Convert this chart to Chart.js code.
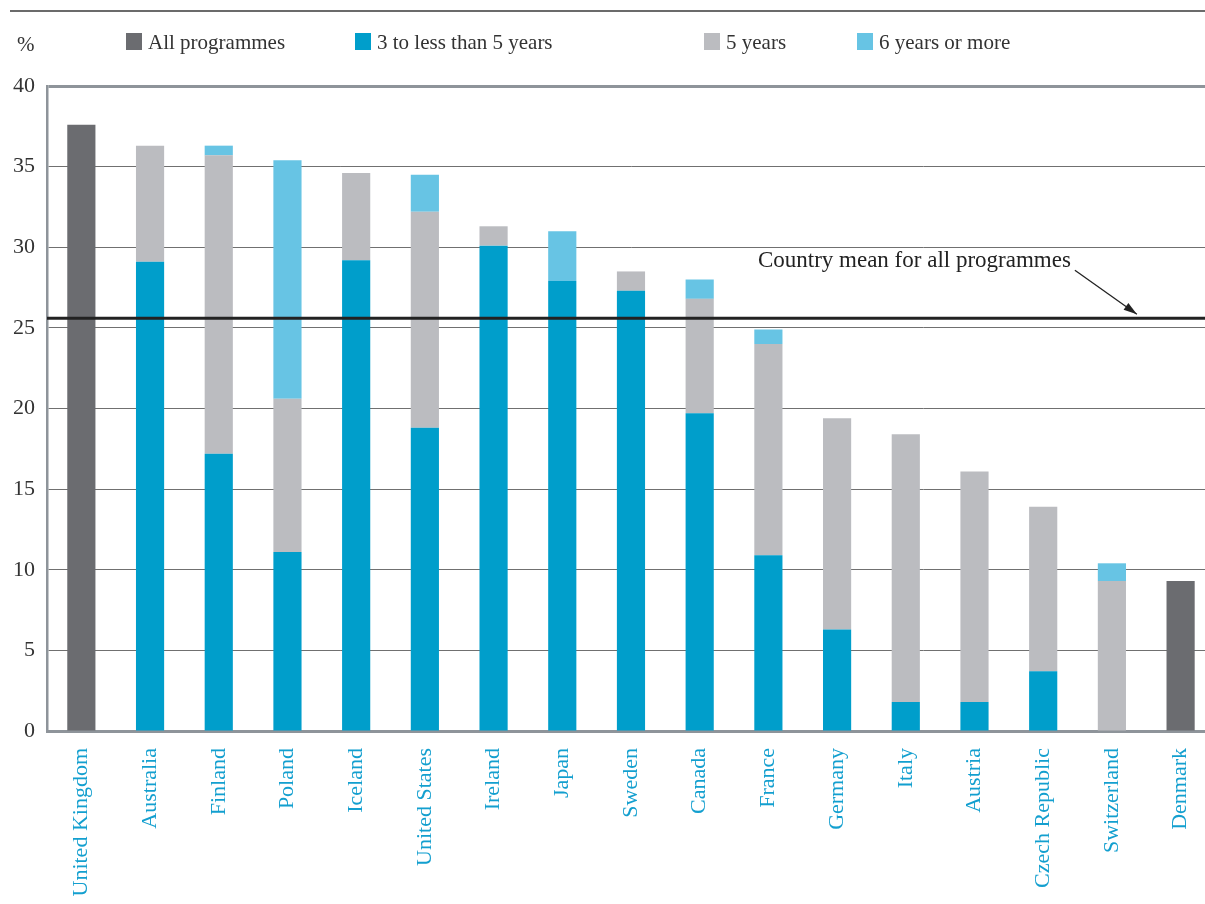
<!DOCTYPE html>
<html>
<head>
<meta charset="utf-8">
<script src="https://cdn.jsdelivr.net/npm/chart.js@4"></script>
<style>
  html, body { margin: 0; padding: 0; background: #fff; overflow: hidden; }
  #wrap { width: 1216px; height: 904px; }
</style>
</head>
<body>
<div id="wrap"><canvas id="chart"></canvas></div>
<script>
const countries = ["United Kingdom", "Australia", "Finland", "Poland", "Iceland", "United States", "Ireland", "Japan", "Sweden", "Canada", "France", "Germany", "Italy", "Austria", "Czech Republic", "Switzerland", "Denmark"];
const allProgrammes = [37.6, null, null, null, null, null, null, null, null, null, null, null, null, null, null, null, 9.3];
const threeToFive = [null, 29.1, 17.2, 11.1, 29.2, 18.8, 30.1, 27.9, 27.3, 19.7, 10.9, 6.3, 1.8, 1.8, 3.7, null, null];
const fiveYears = [null, 7.2, 18.5, 9.5, 5.4, 13.4, 1.2, null, 1.2, 7.1, 13.1, 13.1, 16.6, 14.3, 10.2, 9.3, null];
const sixOrMore = [null, null, 0.6, 14.8, null, 2.3, null, 3.1, null, 1.2, 0.9, null, null, null, null, 1.1, null];
const countryMean = 25.6;
const yTicks = [0, 5, 10, 15, 20, 25, 30, 35, 40];

const serif = "'Liberation Serif', 'DejaVu Serif', serif";
const frameColor = "#8e949a";

// legend, % sign, top rule and mean line are drawn by hand
const decorations = {
  id: "decorations",
  afterDatasetsDraw(chart) {
    const ctx = chart.ctx;
    const area = chart.chartArea;
    const y = chart.scales.y;
    const x = chart.scales.x;
    ctx.save();

    // rule at the very top
    ctx.strokeStyle = "#3a3a3a";
    ctx.lineWidth = 1.5;
    ctx.beginPath();
    ctx.moveTo(10, 11);
    ctx.lineTo(chart.width, 11);
    ctx.stroke();

    ctx.font = "21px " + serif;
    ctx.fillStyle = "#333";
    ctx.textBaseline = "middle";
    ctx.fillText("%", 17, 45);

    // legend
    const legendX = [126, 355, 704, 857];
    chart.data.datasets.forEach((ds, i) => {
      ctx.fillStyle = ds.backgroundColor;
      ctx.fillRect(legendX[i], 33, 16, 17);
      ctx.fillStyle = "#333";
      ctx.fillText(ds.label, legendX[i] + 22, 43);
    });

    // mean line
    const my = y.getPixelForValue(countryMean);
    ctx.strokeStyle = "#222";
    ctx.lineWidth = 3;
    ctx.beginPath();
    ctx.moveTo(area.left, my);
    ctx.lineTo(area.right, my);
    ctx.stroke();

    // annotation + arrow
    const tipX = x.getPixelForValue(15) + 25;
    const tipY = my - 4;
    const startX = tipX - 62;
    const startY = tipY - 44;
    ctx.font = "23px " + serif;
    ctx.fillStyle = "#222";
    ctx.textAlign = "right";
    ctx.textBaseline = "alphabetic";
    ctx.fillText("Country mean for all programmes", startX - 4, startY - 3);

    ctx.lineWidth = 1.3;
    ctx.beginPath();
    ctx.moveTo(startX, startY);
    ctx.lineTo(tipX, tipY);
    ctx.stroke();
    const ang = Math.atan2(tipY - startY, tipX - startX);
    ctx.beginPath();
    ctx.moveTo(tipX, tipY);
    ctx.lineTo(tipX - 14 * Math.cos(ang - 0.3), tipY - 14 * Math.sin(ang - 0.3));
    ctx.lineTo(tipX - 14 * Math.cos(ang + 0.3), tipY - 14 * Math.sin(ang + 0.3));
    ctx.closePath();
    ctx.fill();

    ctx.restore();
  }
};

const ctx = document.getElementById("chart").getContext("2d");
new Chart(ctx, {
  type: "bar",
  data: {
    labels: countries,
    datasets: [
      { label: "All programmes", data: allProgrammes, backgroundColor: "#6b6c70" },
      { label: "3 to less than 5 years", data: threeToFive, backgroundColor: "#009ecb" },
      { label: "5 years", data: fiveYears, backgroundColor: "#bbbcc0" },
      { label: "6 years or more", data: sixOrMore, backgroundColor: "#67c4e4" },
    ],
  },
  options: {
    responsive: true,
    maintainAspectRatio: false,
    animation: false,
    barPercentage: 0.41,
    categoryPercentage: 1,
    layout: { padding: { top: 86, right: 0, bottom: 0, left: 0 } },
    plugins: {
      legend: { display: false },
      tooltip: { enabled: false },
    },
    scales: {
      x: {
        stacked: true,
        grid: { display: false },
        border: { display: true, color: frameColor, width: 3 },
        ticks: {
          minRotation: 90,
          maxRotation: 90,
          padding: 9,
          color: "#139fcf",
          font: { family: serif, size: 22 },
        },
        afterFit: (scale) => { scale.height = 173; },
      },
      y: {
        stacked: true,
        min: 0,
        max: 40,
        afterBuildTicks: (scale) => { scale.ticks = yTicks.map((v) => ({ value: v })); },
        grid: {
          drawTicks: false,
          color: (c) => (c.tick && (c.tick.value === 40 || c.tick.value === 0) ? frameColor : "#707070"),
          lineWidth: (c) => (c.tick && c.tick.value === 40 ? 3 : 1),
        },
        border: { display: true, color: frameColor, width: 2.5 },
        ticks: {
          padding: 12,
          color: "#333",
          font: { family: serif, size: 22 },
        },
        afterFit: (scale) => { scale.width = 47; },
      },
    },
  },
  plugins: [decorations],
});
</script>
</body>
</html>
